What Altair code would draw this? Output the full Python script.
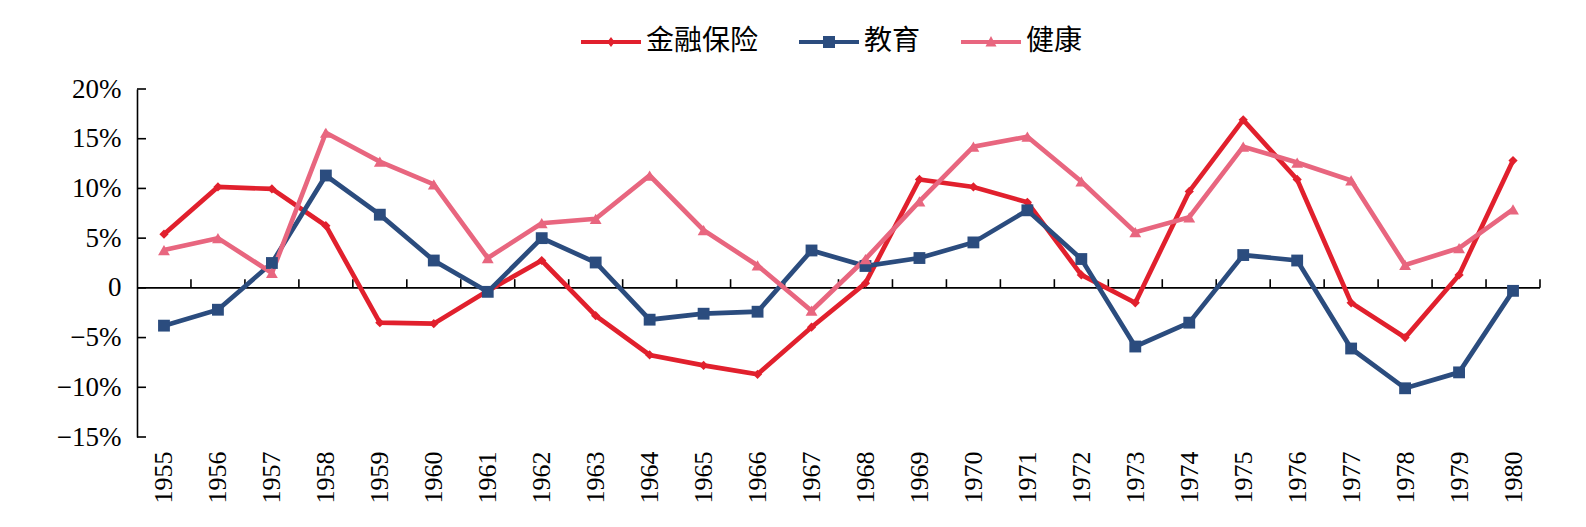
import altair as alt
import pandas as pd

years = list(range(1955, 1981))
finance = [5.4, 10.15, 9.95, 6.25, -3.5, -3.6, -0.3, 2.75, -2.8, -6.75, -7.8, -8.7, -3.96,
           0.47, 10.9, 10.15, 8.6, 1.3, -1.5, 9.7, 16.9, 10.9, -1.5, -5.0, 1.3, 12.8]
education = [-3.8, -2.2, 2.5, 11.3, 7.36, 2.75, -0.4, 5.0, 2.55, -3.2, -2.6, -2.4, 3.76,
             2.2, 3.0, 4.57, 7.8, 2.9, -5.9, -3.5, 3.3, 2.75, -6.1, -10.1, -8.5, -0.3]
health = [3.8, 5.0, 1.5, 15.6, 12.7, 10.4, 3.0, 6.5, 6.95, 11.3, 5.8, 2.25, -2.3,
          2.9, 8.7, 14.2, 15.2, 10.7, 5.6, 7.1, 14.2, 12.6, 10.8, 2.3, 4.0, 7.9]
series = ["金融保险", "教育", "健康"]
colors = ["#E1202D", "#2B4C7E", "#E8667F"]
y_ticks = [-15, -10, -5, 0, 5, 10, 15, 20]

rows = []
for name, vals in zip(series, [finance, education, health]):
    for yr, v in zip(years, vals):
        rows.append({"year": yr, "value": v, "series": name})
df = pd.DataFrame(rows)

x_min, x_max = years[0] - 0.5, years[-1] + 0.5
xscale = alt.Scale(domain=[x_min, x_max], nice=False, zero=False)
yscale = alt.Scale(domain=[y_ticks[0], y_ticks[-1]], nice=False)
cscale = alt.Scale(domain=series, range=colors)

plot_shapes = ["diamond", "square", "triangle-up"]
plot_sizes = [85, 140, 140]
legend_shapes = [
    "M-6,-0.42H6V0.42H-6Z M0,-1L0.75,0L0,1L-0.75,0Z",
    "M-6,-0.42H6V0.42H-6Z M-1.2,-1.2H1.2V1.2H-1.2Z",
    "M-6,-0.42H6V0.42H-6Z M0,-1.2L1.1,0.9L-1.1,0.9Z",
]

label_expr = "datum.value == 0 ? '0' : (datum.value < 0 ? '−' : '') + abs(datum.value) + '%'"
serif = "Liberation Serif"

legend_def = alt.Legend(
    orient="none", legendX=435, legendY=-61, direction="horizontal",
    title=None, symbolSize=100, symbolOpacity=1,
    symbolStrokeWidth=0, symbolOffset=25, labelOffset=21,
    columnPadding=31, padding=0,
    labelFont="Noto Sans CJK SC", labelFontSize=28, labelColor="black",
)

base = alt.Chart(df)

lines = base.mark_line(strokeWidth=4.7).encode(
    x=alt.X("year:Q", scale=xscale,
            axis=alt.Axis(values=years, labelAngle=270, domain=False, ticks=False, grid=False,
                          title=None, labelFont=serif, labelFontSize=26,
                          labelColor="black", labelPadding=14, format="d")),
    y=alt.Y("value:Q", scale=yscale,
            axis=alt.Axis(values=y_ticks, labelExpr=label_expr, domain=True, domainColor="black",
                          domainWidth=1.6, ticks=False, grid=False, title=None,
                          labelFont=serif, labelFontSize=27, labelColor="black",
                          labelPadding=16)),
    color=alt.Color("series:N", scale=cscale),
    order=alt.Order("series:N"),
)

point_layers = []
for name, shp, sz in zip(series, plot_shapes, plot_sizes):
    point_layers.append(
        base.transform_filter(alt.datum.series == name)
        .mark_point(filled=True, opacity=1, size=sz, shape=shp)
        .encode(
            x=alt.X("year:Q", scale=xscale),
            y=alt.Y("value:Q", scale=yscale),
            color=alt.Color("series:N", scale=cscale),
        )
    )

legend_layer = base.mark_point(filled=True, opacity=0).encode(
    x=alt.X("year:Q", scale=xscale),
    y=alt.Y("value:Q", scale=yscale),
    color=alt.Color("series:N", scale=cscale, legend=legend_def),
    shape=alt.Shape("series:N", scale=alt.Scale(domain=series, range=legend_shapes),
                    legend=legend_def),
)

zero_df = pd.DataFrame({"a": [x_min], "b": [x_max], "v": [0]})
zero_line = alt.Chart(zero_df).mark_rule(color="black", strokeWidth=1.6).encode(
    x=alt.X("a:Q", scale=xscale), x2="b:Q", y=alt.Y("v:Q", scale=yscale))

bounds = pd.DataFrame({"b": [y + 0.5 for y in years], "lo": 0, "hi": 0.87})
xticks = alt.Chart(bounds).mark_rule(color="black", strokeWidth=1.6).encode(
    x=alt.X("b:Q", scale=xscale), y=alt.Y("lo:Q", scale=yscale), y2="hi:Q")

ytick_df = pd.DataFrame({"t": y_ticks})
yticks = alt.Chart(ytick_df).mark_rule(color="black", strokeWidth=1.6).encode(
    y=alt.Y("t:Q", scale=yscale), x=alt.value(0), x2=alt.value(9))

chart = alt.layer(zero_line, xticks, yticks, lines, *point_layers, legend_layer).properties(
    width=1403, height=348,
    background="white",
    autosize=alt.AutoSizeParams(type="none"),
    padding={"left": 137, "top": 89, "right": 46, "bottom": 90},
).configure_view(stroke=None)

chart.save("out.html", embed_options={"renderer": "svg", "actions": False})
